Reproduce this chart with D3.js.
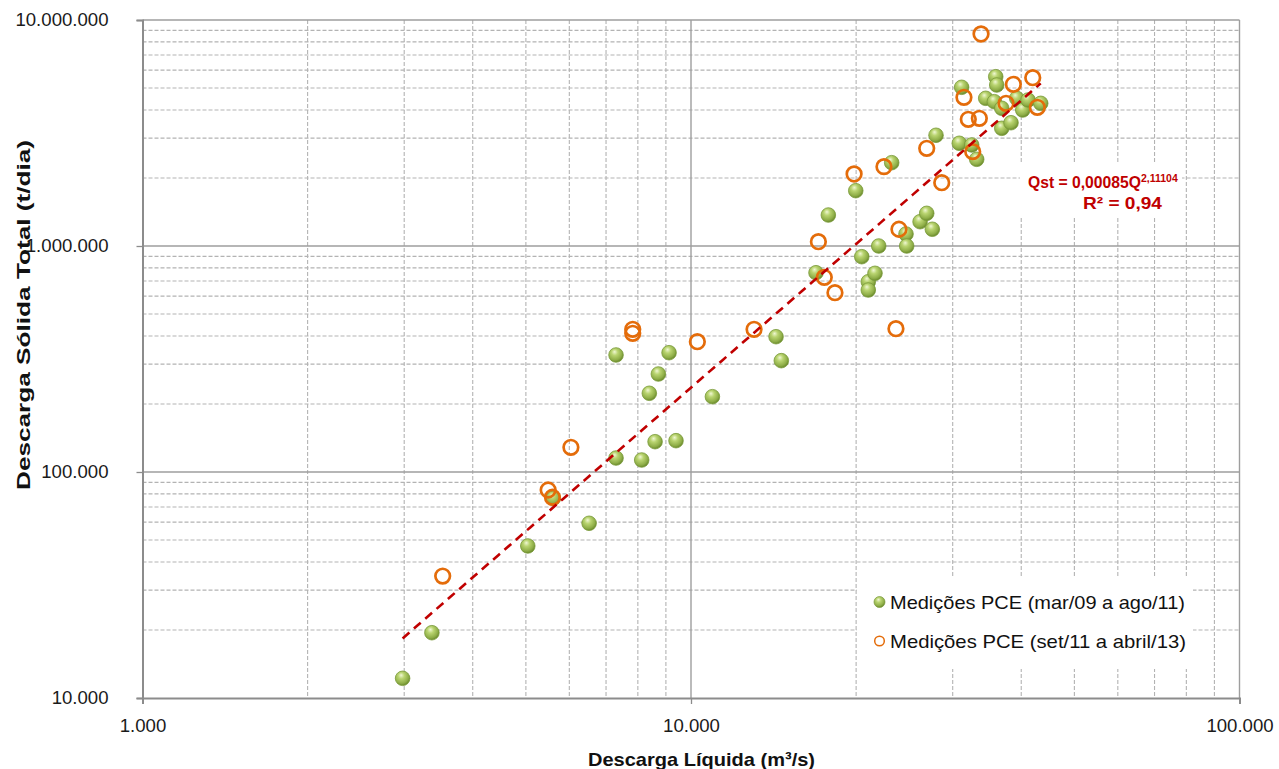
<!DOCTYPE html>
<html>
<head>
<meta charset="utf-8">
<script src="https://cdn.jsdelivr.net/npm/d3@7"></script>
<style>
  html, body { margin: 0; padding: 0; background: #ffffff; }
  svg { display: block; font-family: "Liberation Sans", Arial, sans-serif; }
</style>
</head>
<body>
<svg id="chart" width="1279" height="769"></svg>
<script>
// Medições PCE (mar/09 a ago/11): descarga líquida (m³/s) e descarga sólida total (t/dia)
const q1 = [2980, 3370, 5040, 5610, 6520, 7300, 8130, 7300, 8395, 8600, 8720, 9120, 9390, 10940,
  14290, 14610, 16900, 17800, 19970, 20480, 21050, 21050, 21650, 21990, 23220, 24660, 24730,
  26160, 26900, 27540, 27970, 31150, 30840, 32490, 33180, 34460, 35940, 36090, 35730, 36860,
  39250, 40250, 41160, 43410, 36860, 38320];
const qs1 = [12220, 19450, 47060, 76500, 59300, 115300, 113000, 329400, 223000, 136200, 271400,
  337200, 137600, 215400, 396900, 310900, 761800, 1371000, 1757000, 896800, 695000, 638700,
  757100, 1000000, 2337000, 1130000, 1000000, 1281000, 1395000, 1186000, 3090000, 5037000,
  2848000, 2799000, 2419000, 4503000, 5612000, 5157000, 4350000, 4068000, 4503000, 3998000,
  4426000, 4279000, 3317000, 3512000];

// Medições PCE (set/11 a abril/13)
const q2 = [3526, 5490, 5590, 6040, 7830, 7830, 10270, 13030, 17070, 17500, 18300, 19830, 22480,
  23640, 23940, 26900, 28650, 33790, 31450, 38700, 41980, 37530, 42800, 32030, 33550, 32630];
const qs2 = [34650, 83250, 77300, 128600, 427900, 410800, 377100, 427900, 1045000, 726800, 621400,
  2083000, 2244000, 430600, 1186000, 2706000, 1906000, 8672000, 4550000, 5194000, 5555000,
  4279000, 4108000, 3636000, 3673000, 2615000];

// Curva-chave ajustada: Qst = a · Q^b
const coefA = 0.00085;
const expB = 2.11104;
const r2 = 0.94;

const xTicks = [1000, 10000, 100000];
const yTicks = [10000, 100000, 1000000, 10000000];
const seriesNames = ["Medições PCE (mar/09 a ago/11)", "Medições PCE (set/11 a abril/13)"];
const xTitle = "Descarga Líquida (m³/s)";
const yTitle = "Descarga Sólida Total (t/dia)";

const ptBR = d3.formatLocale({ decimal: ",", thousands: ".", grouping: [3], currency: ["R$", ""] });
const fmtInt = ptBR.format(",.0f");

const svg = d3.select("#chart");
const plotL = 142.5, plotR = 1239.5, plotT = 20, plotB = 698;

const x = d3.scaleLog().domain([1000, 100000]).range([plotL, plotR]);
const y = d3.scaleLog().domain([10000, 10000000]).range([plotB, plotT]);

// Shaded ball marker for the first series
const defs = svg.append("defs");
const grad = defs.append("radialGradient").attr("id", "ballGreen")
  .attr("cx", "42%").attr("cy", "38%").attr("r", "62%").attr("fx", "40%").attr("fy", "28%");
grad.append("stop").attr("offset", "0%").attr("stop-color", "#f0f7d4");
grad.append("stop").attr("offset", "35%").attr("stop-color", "#b9d470");
grad.append("stop").attr("offset", "78%").attr("stop-color", "#8fae48");
grad.append("stop").attr("offset", "100%").attr("stop-color", "#6a8a2c");

// Minor gridlines (dashed)
function minors(domain) {
  const out = [];
  for (let d = domain[0]; d < domain[1]; d *= 10) for (let k = 2; k <= 9; k++) out.push(d * k);
  return out;
}
const grid = svg.append("g");
grid.selectAll("line.xm").data(minors(x.domain())).join("line")
  .attr("x1", d => x(d)).attr("x2", d => x(d)).attr("y1", plotT).attr("y2", plotB)
  .attr("stroke", "#b3b3b3").attr("stroke-width", 1.1).attr("stroke-dasharray", "4,2");
grid.selectAll("line.ym").data(minors(y.domain())).join("line")
  .attr("y1", d => y(d)).attr("y2", d => y(d)).attr("x1", plotL).attr("x2", plotR)
  .attr("stroke", "#b3b3b3").attr("stroke-width", 1.1).attr("stroke-dasharray", "4,2");

// Major gridlines (solid)
grid.selectAll("line.xM").data(xTicks.slice(1)).join("line")
  .attr("x1", d => x(d)).attr("x2", d => x(d)).attr("y1", plotT).attr("y2", plotB)
  .attr("stroke", "#9e9e9e").attr("stroke-width", 1.4);
grid.selectAll("line.yM").data(yTicks.slice(1)).join("line")
  .attr("y1", d => y(d)).attr("y2", d => y(d)).attr("x1", plotL).attr("x2", plotR)
  .attr("stroke", "#9e9e9e").attr("stroke-width", 1.4);

// Axes
const xAxis = svg.append("g").attr("transform", `translate(0,${plotB})`)
  .call(d3.axisBottom(x).tickValues(xTicks).tickFormat(fmtInt).tickSize(6).tickPadding(15));
const yAxis = svg.append("g").attr("transform", `translate(${plotL},0)`)
  .call(d3.axisLeft(y).tickValues(yTicks).tickFormat(fmtInt).tickSize(6).tickPadding(28));
[xAxis, yAxis].forEach(g => {
  g.select(".domain").attr("stroke", "#8c8c8c").attr("stroke-width", 2);
  g.selectAll(".tick line").attr("stroke", "#8c8c8c").attr("stroke-width", 1.3);
  g.selectAll("text").attr("font-size", 18.6).attr("fill", "#1a1a1a")
    .attr("font-family", "'Liberation Sans', Arial, sans-serif");
});

// Data points: series 1 (shaded green balls)
svg.append("g").selectAll("circle").data(q1.map((q, i) => [q, qs1[i]])).join("circle")
  .attr("cx", d => x(d[0])).attr("cy", d => y(d[1])).attr("r", 7.3)
  .attr("fill", "url(#ballGreen)").attr("stroke", "#7a9a3a").attr("stroke-width", 0.8);

// Series 2 (hollow orange circles)
svg.append("g").selectAll("circle").data(q2.map((q, i) => [q, qs2[i]])).join("circle")
  .attr("cx", d => x(d[0])).attr("cy", d => y(d[1])).attr("r", 7.3)
  .attr("fill", "none").attr("stroke", "#e46c0a").attr("stroke-width", 2.7);

// Power trendline over the full range of measured discharges
const allQ = q1.concat(q2);
const qMin = d3.min(allQ), qMax = d3.max(allQ);
const trendQ = d3.range(0, 41).map(i => qMin * Math.pow(qMax / qMin, i / 40));
svg.append("path")
  .datum(trendQ)
  .attr("d", d3.line().x(q => x(q)).y(q => y(coefA * Math.pow(q, expB))))
  .attr("fill", "none").attr("stroke", "#c00000").attr("stroke-width", 2.6)
  .attr("stroke-dasharray", "9,6");

// Equation label
const eq = svg.append("g");
eq.append("rect").attr("x", 1020).attr("y", 163).attr("width", 162).attr("height", 53).attr("fill", "#fff");
const eqText = eq.append("text").attr("x", 1028).attr("y", 188)
  .attr("font-size", 15.7).attr("font-weight", "bold").attr("fill", "#c00000");
eqText.append("tspan").text("Qst = " + ptBR.format(".5f")(coefA) + "Q");
eqText.append("tspan").attr("font-size", 10.5).attr("dy", -6.5).text(ptBR.format(".5f")(expB));
eq.append("text").attr("x", 1083).attr("y", 209)
  .attr("font-size", 16.5).attr("font-weight", "bold").attr("fill", "#c00000")
  .attr("textLength", 79).attr("lengthAdjust", "spacingAndGlyphs")
  .text("R² = " + ptBR.format(".2f")(r2));

// Legend
const lg = svg.append("g");
lg.append("rect").attr("x", 857).attr("y", 577).attr("width", 336).attr("height", 92).attr("fill", "#fff");
const rows = [0, 1].map(i => ({ name: seriesNames[i], cy: 602 + i * 39 }));
rows.forEach((r, i) => {
  if (i === 0) {
    lg.append("circle").attr("cx", 879.5).attr("cy", r.cy).attr("r", 5.5)
      .attr("fill", "url(#ballGreen)").attr("stroke", "#7a9a3a").attr("stroke-width", 0.7);
  } else {
    lg.append("circle").attr("cx", 879.5).attr("cy", r.cy).attr("r", 4.8)
      .attr("fill", "none").attr("stroke", "#e46c0a").attr("stroke-width", 1.5);
  }
  lg.append("text").attr("x", 890).attr("y", r.cy + 6.5).attr("font-size", 18.5).attr("fill", "#111")
    .attr("textLength", i === 0 ? 295 : 296).attr("lengthAdjust", "spacingAndGlyphs")
    .text(r.name);
});

// Axis titles
svg.append("text").attr("x", 588).attr("y", 766)
  .attr("font-size", 18.5).attr("font-weight", "bold").attr("fill", "#111")
  .attr("textLength", 227).attr("lengthAdjust", "spacingAndGlyphs").text(xTitle);
svg.append("text").attr("transform", "translate(30,490) rotate(-90)")
  .attr("font-size", 19).attr("font-weight", "bold").attr("fill", "#111")
  .attr("textLength", 350).attr("lengthAdjust", "spacingAndGlyphs").text(yTitle);
</script>
</body>
</html>
